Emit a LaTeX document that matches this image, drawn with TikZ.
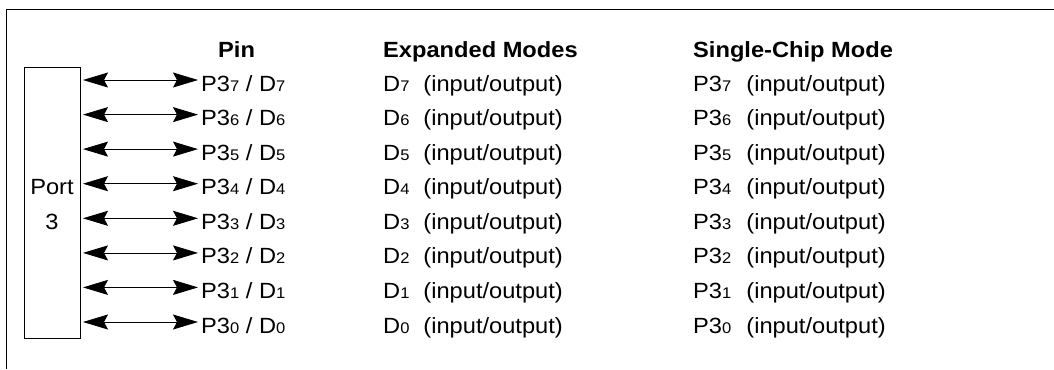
\documentclass[tikz,border=0pt]{standalone}
\usepackage{fontspec}
\setmainfont{Liberation Sans}
\usetikzlibrary{arrows.meta}
\newcommand{\sd}[1]{{\fontsize{15.4bp}{18bp}\selectfont #1}}
\newcommand{\tx}[1]{\scalebox{1.075}[1]{#1}}
\begin{document}
\begin{tikzpicture}[x=1bp,y=-1bp,
  txt/.style={anchor=base west, inner sep=0, font=\fontsize{22bp}{26bp}\selectfont},
  hdr/.style={txt, font=\fontsize{22bp}{26bp}\selectfont\bfseries},
  conn/.style={{Stealth[length=25bp,width=15bp,inset=4bp]}-{Stealth[length=25bp,width=15bp,inset=4bp]}, line width=0.8bp}]
\useasboundingbox (0,0) rectangle (1054,369);
\draw[line width=1bp] (6,369) -- (6,9) -- (1054,9);
\node[draw, line width=0.8bp, minimum width=56bp, minimum height=271bp, inner sep=0, anchor=north west] (port) at (24,67) {};
\node[txt, anchor=base] (portlbl) at (52,194.7) {\tx{Port}};
\node[txt, anchor=base] (portnum) at (52,229.3) {\tx{3}};
\node[hdr] (hpin) at (218,57) {\tx{Pin}};
\node[hdr] (hexp) at (383,57) {\tx{Expanded Modes}};
\node[hdr] (hsc) at (693,57) {\tx{Single-Chip Mode}};
\foreach \i/\y in {7/80,6/114.6,5/149.1,4/183.7,3/218.3,2/252.9,1/287.4,0/322}{
  \coordinate (l\i) at (83,\y);
  \coordinate (r\i) at (198,\y);
  \draw[conn] (l\i) -- (r\i);
  \node[txt] (pin\i) at (201,{\y+11}) {\tx{P3\sd{\i} / D\sd{\i}}};
  \node[txt] (exp\i) at (383,{\y+11}) {\tx{D\sd{\i}\hspace{13bp}(input/output)}};
  \node[txt] (sc\i) at (693,{\y+11}) {\tx{P3\sd{\i}\hspace{14bp}(input/output)}};
}
\end{tikzpicture}
\end{document}
